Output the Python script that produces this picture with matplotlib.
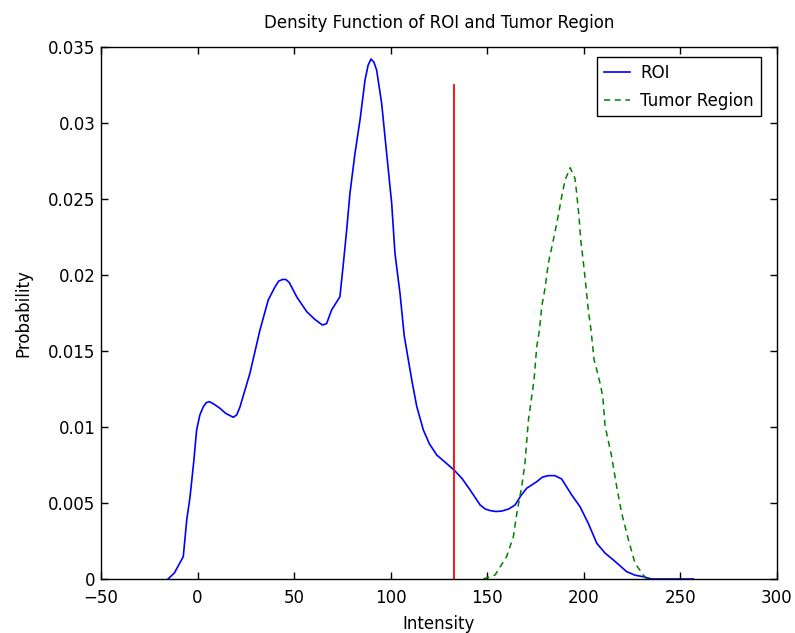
import matplotlib
matplotlib.use('Agg')
import matplotlib.pyplot as plt

# density of the whole ROI
roi_x = [-15.3, -12, -7.4, -5.6, -3.9, -2, -0.5, 1.2, 3, 4.5, 6.1, 8.5, 11.6, 14.5, 18.5,
         20.3, 22, 27.1, 32.3, 36.6, 40, 42, 44.1, 45.8, 47.5, 51.3, 56.5, 60.5, 64.6, 66.8,
         69.4, 73.7, 75.5, 77.2, 78.9, 81.5, 84.1, 86.7, 88.3, 89.8, 91.3, 92.7, 95.3, 97.9,
         100.5, 102.2, 104.8, 107, 110.9, 113.5, 116.9, 120, 123.8, 128, 132.8, 137, 141.1,
         146.3, 149, 151.5, 154.5, 157.5, 161, 164.4, 167.5, 170.4, 175.6, 178.5, 181.6,
         185, 188.5, 193.7, 198, 202.3, 206.7, 211, 215.3, 222.2, 226.5, 230.8, 235, 256.7]
roi_y = [0, 0.0004, 0.00147, 0.0039, 0.0054, 0.0077, 0.0098, 0.0108, 0.01134, 0.0116,
         0.01167, 0.0115, 0.01123, 0.0109, 0.01064, 0.0108, 0.01134, 0.01353, 0.01638,
         0.01836, 0.0192, 0.0196, 0.01971, 0.0197, 0.0195, 0.01857, 0.01759, 0.0171,
         0.01671, 0.0168, 0.0177, 0.01857, 0.02077, 0.02296, 0.02538, 0.028, 0.0302,
         0.03283, 0.0338, 0.03421, 0.0340, 0.03349, 0.0313, 0.028, 0.02472, 0.02143,
         0.0188, 0.0160, 0.01309, 0.01134, 0.0098, 0.0089, 0.00816, 0.0077, 0.00717,
         0.0066, 0.00586, 0.00487, 0.0046, 0.0045, 0.00444, 0.00447, 0.0046, 0.00487,
         0.0055, 0.00597, 0.0064, 0.0067, 0.0068, 0.0068, 0.00658, 0.00553, 0.00476,
         0.00366, 0.00235, 0.0017, 0.00125, 0.00048, 0.00025, 0.00015, 0, 0]

# density of the tumor region
tum_x = [148, 154, 160, 163.5, 165.3, 167.8, 169.5, 171.3, 173, 174.2, 175.6, 177, 178.2,
         179.9, 181.6, 182.9, 184.2, 185.6, 186.8, 188.5, 190.3, 192.9, 195.4, 196.3, 196.8,
         197.5, 198.4, 199.8, 201.1, 202.3, 203.7, 205.3, 206.7, 208.4, 209.8, 211, 211.8,
         214.4, 217, 219.6, 223.1, 226.5, 230.8, 232.6]
tum_y = [0, 0.00026, 0.00147, 0.00278, 0.00432, 0.00607, 0.00761, 0.01046, 0.012, 0.01309,
         0.01528, 0.01638, 0.01792, 0.01913, 0.02077, 0.02153, 0.0223, 0.02318, 0.02395,
         0.02515, 0.02625, 0.02706, 0.02636, 0.02537, 0.02472, 0.02384, 0.0223, 0.02077,
         0.01923, 0.0177, 0.01638, 0.01441, 0.01375, 0.01287, 0.012, 0.01002, 0.00959,
         0.00805, 0.00607, 0.00432, 0.00257, 0.00103, 0.00026, 0]

thresh_x = 132.9
thresh_top = 0.0325

xticks = [-50, 0, 50, 100, 150, 200, 250, 300]
yticks = [0, 0.005, 0.01, 0.015, 0.02, 0.025, 0.03, 0.035]
ytick_labels = ['0', '0.005', '0.01', '0.015', '0.02', '0.025', '0.03', '0.035']

plt.rcParams['font.family'] = 'DejaVu Sans'
fs = 12

fig = plt.figure(figsize=(7.95, 6.33), dpi=100)
ax = fig.add_axes([101/795, 1-579/633, 676/795, 532/633])

ax.plot(roi_x, roi_y, color='#0000ff', lw=1.2, label='ROI')
ax.plot(tum_x, tum_y, color='#008000', lw=1.1, ls=(0, (4, 3)), label='Tumor Region')
ax.plot([thresh_x, thresh_x], [0, thresh_top], color='#ff0000', lw=1.3)

ax.set_xlim(-50, 300)
ax.set_ylim(0, 0.035)
ax.set_xticks(xticks)
ax.set_yticks(yticks)
ax.set_yticklabels(ytick_labels)
ax.tick_params(direction='in', length=5, width=1, top=True, right=True, labelsize=fs)
ax.tick_params(axis='x', pad=7)
ax.tick_params(axis='y', pad=4)
for s in ax.spines.values():
    s.set_linewidth(1)

ax.set_xlabel('Intensity', fontsize=fs, labelpad=6)
ax.set_ylabel('Probability', fontsize=fs, labelpad=11)
ax.set_title('Density Function of ROI and Tumor Region', fontsize=fs, pad=14)

leg = ax.legend(loc='upper right', bbox_to_anchor=(0.976, 0.981), fontsize=fs,
                fancybox=False, framealpha=1, edgecolor='black', borderaxespad=0,
                handlelength=1.6, handletextpad=0.6, labelspacing=0.6)
leg.get_frame().set_linewidth(1)

fig.savefig('out.png', dpi=100)
